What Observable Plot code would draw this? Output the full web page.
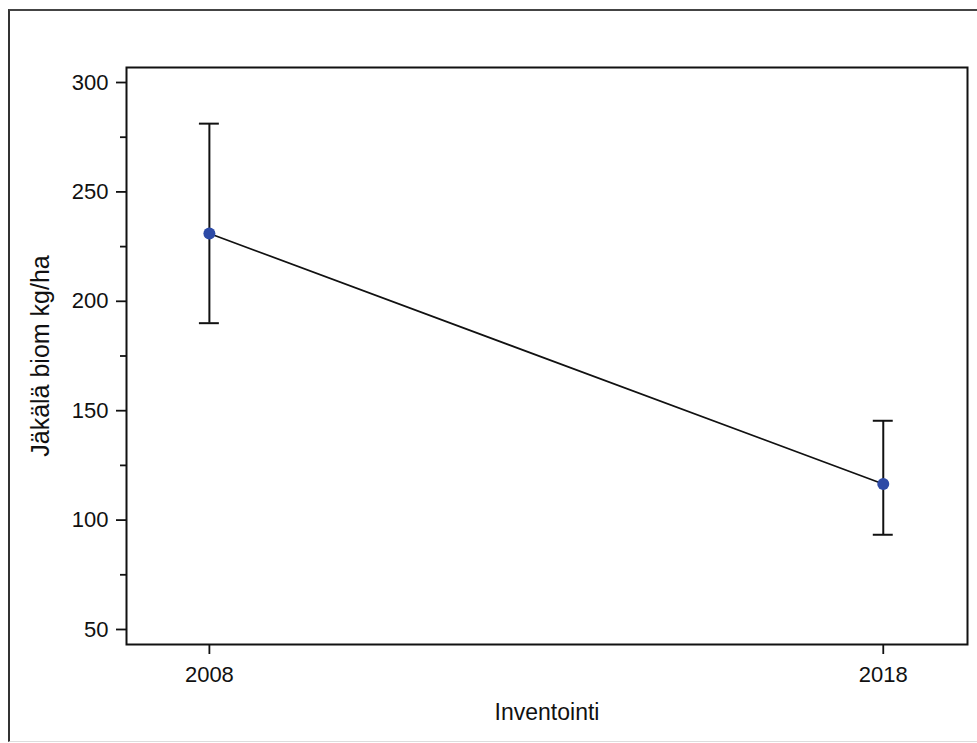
<!DOCTYPE html>
<html>
<head>
<meta charset="utf-8">
<script src="https://cdn.jsdelivr.net/npm/d3@7"></script>
<script src="https://cdn.jsdelivr.net/npm/@observablehq/plot@0.6"></script>
<style>
  html, body { margin: 0; padding: 0; background: #fff; overflow: hidden; }
  #wrap { position: relative; width: 977px; height: 743px; }
  #chart { position: absolute; left: 0; top: 0; }
  #border { position: absolute; left: 8px; top: 9px; width: 1000px; height: 730px;
            border-left: 2px solid #333; border-top: 2px solid #444; border-bottom: 1px solid #ddd;
            pointer-events: none; }
</style>
</head>
<body>
<div id="wrap"><div id="chart"></div><div id="border"></div></div>
<script>
const years = [2008, 2018];
const means = [231, 116.5];
const lower = [190, 93.3];
const upper = [281.2, 145.4];
const yMajorTicks = [50, 100, 150, 200, 250, 300];
const yMinorTicks = [75, 125, 175, 225, 275];
const xTicks = [2008, 2018];
const yTitle = "Jäkälä biom kg/ha";
const xTitle = "Inventointi";

const data = years.map((y, i) => ({year: y, mean: means[i], lo: lower[i], hi: upper[i]}));
const capHalf = 0.148;

const chart = Plot.plot({
  width: 977,
  height: 743,
  marginLeft: 126,
  marginRight: 10,
  marginTop: 67,
  marginBottom: 99,
  style: {fontFamily: "'Liberation Sans', Arial, sans-serif", fontSize: "22px", color: "#111", background: "transparent"},
  x: {domain: [2006.77, 2019.25]},
  y: {domain: [43.14, 306.86]},
  marks: [
    Plot.frame({stroke: "#111", strokeWidth: 2}),
    Plot.axisY({ticks: yMajorTicks, tickSize: 10, tickPadding: 8, tickFormat: "d", label: null, strokeWidth: 1.8, fontSize: 22}),
    Plot.axisY({ticks: yMinorTicks, tickSize: 6, tickFormat: () => "", label: null, strokeWidth: 1.8}),
    Plot.axisX({ticks: xTicks, tickSize: 10, tickPadding: 12, tickFormat: "d", label: null, strokeWidth: 1.8, fontSize: 22}),
    Plot.text([yTitle], {frameAnchor: "left", textAnchor: "middle", lineAnchor: "middle", rotate: -90, dx: -86, fontSize: 25, fill: "#111"}),
    Plot.text([xTitle], {frameAnchor: "bottom", textAnchor: "middle", lineAnchor: "middle", dy: 68, fontSize: 23, fill: "#111"}),
    Plot.line(data, {x: "year", y: "mean", stroke: "#111", strokeWidth: 1.7}),
    Plot.ruleX(data, {x: "year", y1: "lo", y2: "hi", stroke: "#111", strokeWidth: 2}),
    Plot.ruleY(data, {y: "lo", x1: d => d.year - capHalf, x2: d => d.year + capHalf, stroke: "#111", strokeWidth: 2}),
    Plot.ruleY(data, {y: "hi", x1: d => d.year - capHalf, x2: d => d.year + capHalf, stroke: "#111", strokeWidth: 2}),
    Plot.dot(data, {x: "year", y: "mean", r: 6, fill: "#2d4aa6", stroke: "none"})
  ]
});
document.getElementById("chart").appendChild(chart);
</script>
</body>
</html>
